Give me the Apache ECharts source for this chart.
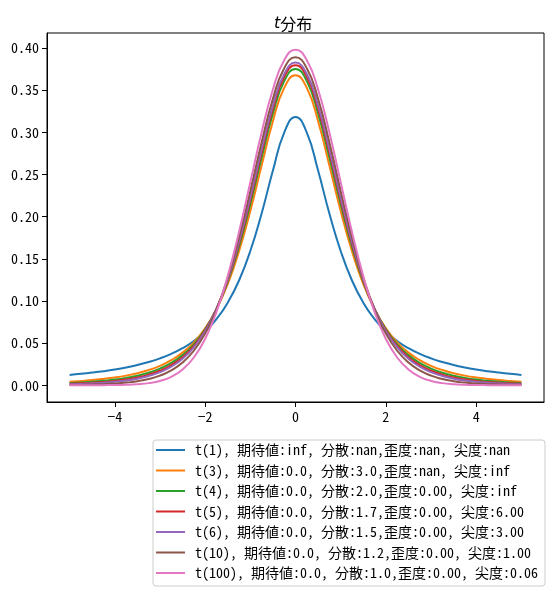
<!DOCTYPE html>
<html>
<head>
<meta charset="utf-8">
<script src="https://cdn.jsdelivr.net/npm/echarts@6/dist/echarts.min.js"></script>
<style>
  html, body { margin: 0; padding: 0; background: #fff; }
  #main { width: 553px; height: 596px; }
</style>
</head>
<body>
<div id="main"></div>
<script>
// x positions the curves were read at
var xs = [-5, -4.75, -4.5, -4.25, -4, -3.75, -3.5, -3.25, -3, -2.75, -2.5, -2.25, -2, -1.75, -1.5, -1.25, -1, -0.75, -0.5, -0.25,
  0, 0.25, 0.5, 0.75, 1, 1.25, 1.5, 1.75, 2, 2.25, 2.5, 2.75, 3, 3.25, 3.5, 3.75, 4, 4.25, 4.5, 4.75, 5];

var t1 = [0.0122, 0.0135, 0.0150, 0.0167, 0.0187, 0.0211, 0.0240, 0.0275, 0.0318, 0.0372, 0.0439, 0.0525, 0.0637, 0.0784, 0.0979, 0.1242, 0.1592, 0.2037, 0.2546, 0.2996,
  0.3183, 0.2996, 0.2546, 0.2037, 0.1592, 0.1242, 0.0979, 0.0784, 0.0637, 0.0525, 0.0439, 0.0372, 0.0318, 0.0275, 0.0240, 0.0211, 0.0187, 0.0167, 0.0150, 0.0135, 0.0122];
var t3 = [0.0042, 0.0051, 0.0061, 0.0075, 0.0092, 0.0114, 0.0142, 0.0180, 0.0230, 0.0297, 0.0387, 0.0509, 0.0675, 0.0900, 0.1200, 0.1589, 0.2067, 0.2606, 0.3132, 0.3527,
  0.3676, 0.3527, 0.3132, 0.2606, 0.2067, 0.1589, 0.1200, 0.0900, 0.0675, 0.0509, 0.0387, 0.0297, 0.0230, 0.0180, 0.0142, 0.0114, 0.0092, 0.0075, 0.0061, 0.0051, 0.0042];
var t4 = [0.0027, 0.0033, 0.0041, 0.0053, 0.0067, 0.0087, 0.0113, 0.0148, 0.0197, 0.0264, 0.0357, 0.0485, 0.0663, 0.0905, 0.1229, 0.1644, 0.2147, 0.2699, 0.3223, 0.3607,
  0.3750, 0.3607, 0.3223, 0.2699, 0.2147, 0.1644, 0.1229, 0.0905, 0.0663, 0.0485, 0.0357, 0.0264, 0.0197, 0.0148, 0.0113, 0.0087, 0.0067, 0.0053, 0.0041, 0.0033, 0.0027];
var t5 = [0.0018, 0.0023, 0.0030, 0.0039, 0.0051, 0.0069, 0.0092, 0.0126, 0.0173, 0.0239, 0.0333, 0.0466, 0.0651, 0.0905, 0.1245, 0.1679, 0.2197, 0.2757, 0.3279, 0.3657,
  0.3796, 0.3657, 0.3279, 0.2757, 0.2197, 0.1679, 0.1245, 0.0905, 0.0651, 0.0466, 0.0333, 0.0239, 0.0173, 0.0126, 0.0092, 0.0069, 0.0051, 0.0039, 0.0030, 0.0023, 0.0018];
var t6 = [0.0012, 0.0016, 0.0022, 0.0030, 0.0041, 0.0056, 0.0078, 0.0110, 0.0155, 0.0220, 0.0315, 0.0450, 0.0640, 0.0904, 0.1255, 0.1703, 0.2231, 0.2797, 0.3318, 0.3691,
  0.3827, 0.3691, 0.3318, 0.2797, 0.2231, 0.1703, 0.1255, 0.0904, 0.0640, 0.0450, 0.0315, 0.0220, 0.0155, 0.0110, 0.0078, 0.0056, 0.0041, 0.0030, 0.0022, 0.0016, 0.0012];
var t10 = [0.0004, 0.0006, 0.0009, 0.0013, 0.0020, 0.0031, 0.0048, 0.0074, 0.0114, 0.0176, 0.0269, 0.0409, 0.0612, 0.0895, 0.1274, 0.1751, 0.2304, 0.2880, 0.3397, 0.3760,
  0.3891, 0.3760, 0.3397, 0.2880, 0.2304, 0.1751, 0.1274, 0.0895, 0.0612, 0.0409, 0.0269, 0.0176, 0.0114, 0.0074, 0.0048, 0.0031, 0.0020, 0.0013, 0.0009, 0.0006, 0.0004];
var t100 = [0.0000, 0.0000, 0.0000, 0.0001, 0.0002, 0.0005, 0.0012, 0.0025, 0.0051, 0.0100, 0.0186, 0.0329, 0.0549, 0.0868, 0.1294, 0.1819, 0.2408, 0.2998, 0.3508, 0.3856,
  0.3979, 0.3856, 0.3508, 0.2998, 0.2408, 0.1819, 0.1294, 0.0868, 0.0549, 0.0329, 0.0186, 0.0100, 0.0051, 0.0025, 0.0012, 0.0005, 0.0002, 0.0001, 0.0000, 0.0000, 0.0000];

var names = [
  't(1), 期待値:inf, 分散:nan,歪度:nan, 尖度:nan',
  't(3), 期待値:0.0, 分散:3.0,歪度:nan, 尖度:inf',
  't(4), 期待値:0.0, 分散:2.0,歪度:0.00, 尖度:inf',
  't(5), 期待値:0.0, 分散:1.7,歪度:0.00, 尖度:6.00',
  't(6), 期待値:0.0, 分散:1.5,歪度:0.00, 尖度:3.00',
  't(10), 期待値:0.0, 分散:1.2,歪度:0.00, 尖度:1.00',
  't(100), 期待値:0.0, 分散:1.0,歪度:0.00, 尖度:0.06'
];
var colors = ['#1f77b4', '#ff7f0e', '#2ca02c', '#d62728', '#9467bd', '#8c564b', '#e377c2'];
var xTicks = [-4, -2, 0, 2, 4];
var yTicks = [0, 0.05, 0.10, 0.15, 0.20, 0.25, 0.30, 0.35, 0.40];

var curves = [t1, t3, t4, t5, t6, t10, t100];
var font = '"Noto Sans Mono CJK JP", "Noto Sans CJK JP", monospace';

var chart = echarts.init(document.getElementById('main'), null, { renderer: 'canvas' });

var series = curves.map(function (ys, i) {
  return {
    name: names[i],
    type: 'line',
    smooth: true,
    symbol: 'none',
    data: xs.map(function (x, j) { return [x, ys[j]]; }),
    lineStyle: { width: 2, color: colors[i] },
    itemStyle: { color: colors[i] }
  };
});

var option = {
  backgroundColor: '#fff',
  animation: false,
  title: {
    text: '{i|t}分布',
    left: 269,
    top: 11,
    textStyle: {
      fontFamily: '"Noto Sans CJK JP", sans-serif',
      fontSize: 16,
      fontWeight: 'normal',
      color: '#000',
      rich: {
        i: { fontFamily: 'DejaVu Sans', fontStyle: 'italic', fontSize: 16, color: '#000' }
      }
    }
  },
  grid: {
    left: 47,
    right: 9,
    top: 33,
    bottom: 194,
    show: true,
    borderColor: '#000',
    borderWidth: 1
  },
  legend: {
    orient: 'vertical',
    left: 153,
    top: 440,
    icon: 'rect',
    itemWidth: 29,
    itemHeight: 2,
    itemGap: 6.5,
    padding: [3, 7, 6, 3],
    borderColor: '#ccc',
    borderWidth: 1,
    borderRadius: 3,
    backgroundColor: '#fff',
    textStyle: {
      fontFamily: font,
      fontSize: 14,
      lineHeight: 14,
      color: '#000',
      padding: [0, 0, 0, 5]
    },
    data: names
  },
  xAxis: {
    type: 'value',
    min: -5.5,
    max: 5.5,
    splitLine: { show: false },
    axisLine: { show: true, onZero: false, lineStyle: { color: '#000' } },
    axisTick: { show: true, length: 5, lineStyle: { color: '#000' }, customValues: xTicks },
    axisLabel: {
      color: '#000',
      fontFamily: font,
      fontSize: 14,
      margin: 8,
      customValues: xTicks,
      formatter: function (v) { return v < 0 ? '\u2212' + Math.abs(v) : String(v); }
    }
  },
  yAxis: {
    type: 'value',
    min: -0.0199,
    max: 0.4178,
    splitLine: { show: false },
    axisLine: { show: true, onZero: false, lineStyle: { color: '#000' } },
    axisTick: { show: true, length: 5, lineStyle: { color: '#000' }, customValues: yTicks },
    axisLabel: {
      color: '#000',
      fontFamily: font,
      fontSize: 14,
      margin: 8,
      customValues: yTicks,
      formatter: function (v) { return v.toFixed(2); }
    }
  },
  series: series
};

chart.setOption(option);
</script>
</body>
</html>
